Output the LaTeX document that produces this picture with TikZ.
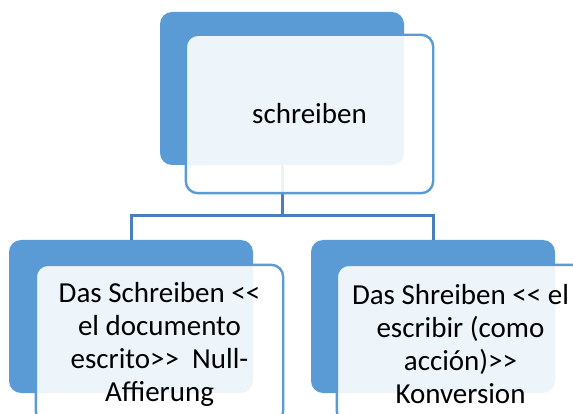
\documentclass[tikz,border=0pt]{standalone}
\usepackage{fontspec}
\setmainfont{Carlito}
\definecolor{accent}{HTML}{5B9BD5}
\definecolor{connc}{HTML}{4A7EBB}
\begin{document}
\begin{tikzpicture}[x=1pt,y=-1pt,
  backbox/.style={draw=none, fill=accent, rounded corners=12pt, inner sep=0pt,
    minimum width=244pt, minimum height=153pt},
  frontbox/.style={draw=none, fill=white, fill opacity=0.9, text opacity=1,
    rounded corners=12pt, inner sep=0pt, minimum width=247pt, minimum height=158pt,
    align=center, font=\fontsize{29}{33}\selectfont},
  frontedge/.style={draw=accent, line width=2.4pt, rounded corners=12pt},
  conn/.style={draw=connc, line width=3pt}]
\useasboundingbox (0,0) rectangle (573,414);
\clip (0,0) rectangle (573,414);
% back boxes
\node[backbox] (topback) at (282,88.5) {};
\node[backbox] (leftback) at (131,316.5) {};
\node[backbox] (rightback) at (433,316.5) {};
% connectors
\coordinate (bus) at (282,215.5);
\draw[conn] (topback.south) -- (bus);
\draw[conn] (leftback.north) |- (bus) -| (rightback.north);
% front boxes
\node[frontbox] (topfront) at (309.5,114) {schreiben};
\node[frontbox] (leftfront) at (159.5,344) {Das Schreiben <{}<\\el documento\\escrito>{}>\ \ Null-\\Affierung};
\node[frontbox] (rightfront) at (460.5,344) {Das Shreiben <{}< el\\escribir (como\\acción)>{}>\\Konversion};
\foreach \n in {topfront,leftfront,rightfront}
  \draw[frontedge] (\n.south west) rectangle (\n.north east);
\end{tikzpicture}
\end{document}
